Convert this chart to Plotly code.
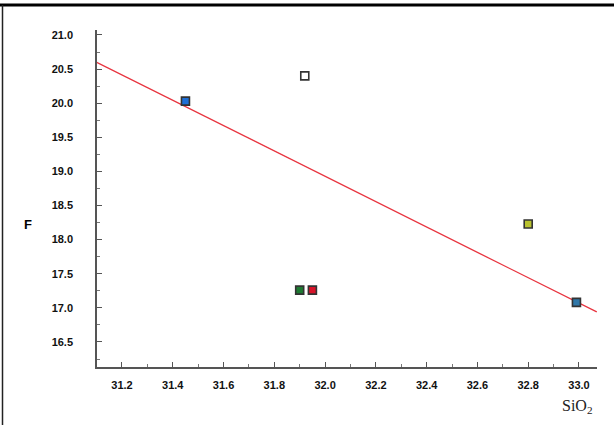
import plotly.graph_objects as go

# Data
sio2 = [31.45, 31.92, 31.90, 31.95, 32.80, 32.99]
f_vals = [20.03, 20.40, 17.26, 17.26, 18.23, 17.08]
point_colors = ["#1f6fd6", "#ffffff", "#1e7a32", "#d8142a", "#b9c22e", "#2f77a8"]

fit_x = [31.10, 33.07]
fit_y = [20.60, 16.94]

x_ticks = [31.2, 31.4, 31.6, 31.8, 32.0, 32.2, 32.4, 32.6, 32.8, 33.0]
y_ticks = [16.5, 17.0, 17.5, 18.0, 18.5, 19.0, 19.5, 20.0, 20.5, 21.0]

fig = go.Figure()
fig.add_trace(go.Scatter(
    x=fit_x, y=fit_y, mode="lines",
    line=dict(color="#e8343f", width=1.3), hoverinfo="skip", showlegend=False,
))
fig.add_trace(go.Scatter(
    x=sio2, y=f_vals, mode="markers",
    marker=dict(symbol="square", size=8, color=point_colors,
                line=dict(color="#333333", width=1.6)),
    showlegend=False,
))

axis_font = dict(family="Liberation Sans, Arial, sans-serif", size=11, color="#111111", weight="bold")

fig.update_xaxes(
    range=[31.1016, 33.071], tickvals=x_ticks, ticktext=[f"{v:.1f}" for v in x_ticks],
    ticks="inside", ticklen=5, tickcolor="#555555", tickwidth=1,
    minor=dict(dtick=0.1, tick0=31.1, ticks="inside", ticklen=3, tickcolor="#777777"),
    showline=True, linecolor="#555555", linewidth=1.5, showgrid=False, zeroline=False,
    tickfont=axis_font, ticklabelstandoff=7,
)
fig.update_yaxes(
    range=[16.133, 21.073], tickvals=y_ticks, ticktext=[f"{v:.1f}" for v in y_ticks],
    ticks="inside", ticklen=5, tickcolor="#555555", tickwidth=1,
    minor=dict(dtick=0.25, tick0=16.25, ticks="inside", ticklen=3, tickcolor="#777777"),
    showline=True, linecolor="#555555", linewidth=1.5, showgrid=False, zeroline=False,
    tickfont=axis_font, ticklabelstandoff=20,
)

W, H = 614, 425
L, R, T, B = 97, 17, 30, 58
pw, ph = W - L - R, H - T - B

def px(xpix):
    return (xpix - L) / pw

def py(ypix):
    return (H - B - ypix) / ph

fig.update_layout(
    width=W, height=H,
    margin=dict(l=L, r=R, t=T, b=B, pad=0),
    paper_bgcolor="white", plot_bgcolor="white",
    shapes=[
        dict(type="line", xref="paper", yref="paper", x0=px(0), x1=px(W), y0=py(5), y1=py(5),
             line=dict(color="black", width=3)),
        dict(type="line", xref="paper", yref="paper", x0=px(2.5), x1=px(2.5), y0=py(5), y1=py(H),
             line=dict(color="#222222", width=1.5)),
    ],
    annotations=[
        dict(text="F", xref="paper", yref="paper", x=px(22), y=py(224), showarrow=False,
             font=dict(family="Liberation Sans, Arial, sans-serif", size=13, color="black", weight="bold")),
        dict(text="SiO<sub>2</sub>", xref="paper", yref="paper", x=px(595), y=py(418), showarrow=False,
             font=dict(family="Liberation Serif, Times New Roman, serif", size=16, color="#222222")),
    ],
)

fig.write_html(
    "out.html",
    config={"displayModeBar": False},
    post_script="document.body.style.margin='0';document.body.style.padding='0';",
)
